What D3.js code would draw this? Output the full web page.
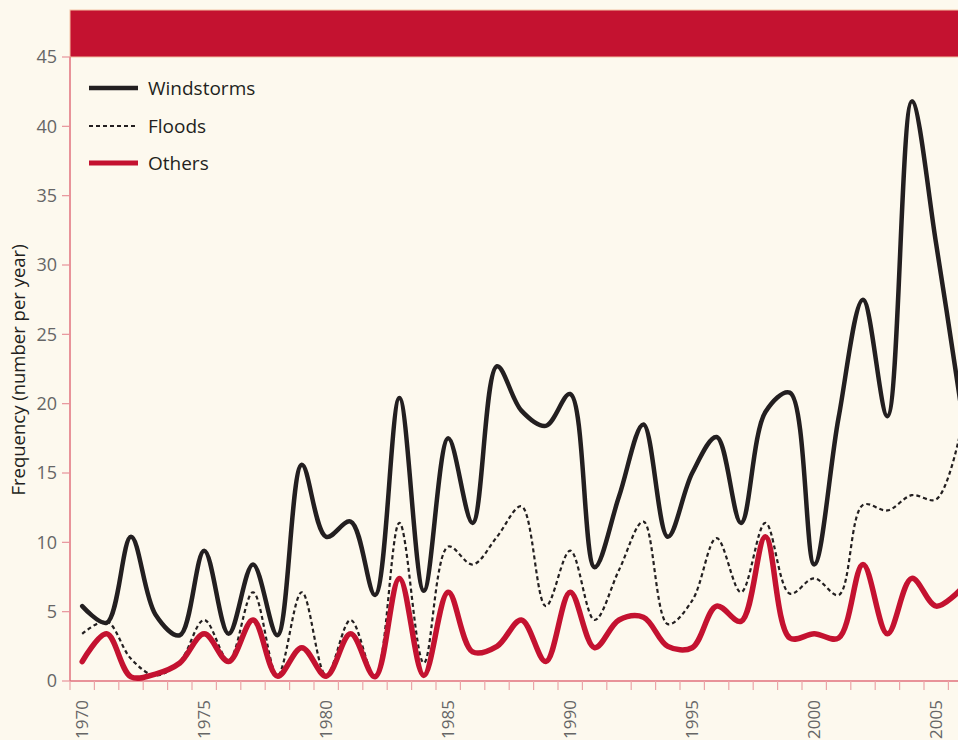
<!DOCTYPE html>
<html><head><meta charset="utf-8">
<script src="https://cdn.jsdelivr.net/npm/d3@7/dist/d3.min.js"></script>
<style>
html,body{margin:0;padding:0;background:#fdf9ee;}
svg{display:block;}
text{font-family:"Open Sans","Noto Sans",sans-serif;}
</style></head>
<body><svg id="c" width="958" height="740"></svg>
<script>
const years = d3.range(1970, 2007);
const windstorms = [5.4,4.2,10.4,4.8,3.3,9.4,3.4,8.4,3.3,15.6,10.4,11.5,6.2,20.4,6.5,17.5,11.4,22.7,19.5,18.4,20.7,8.2,13.3,18.5,10.4,15.0,17.6,11.4,19.4,20.8,8.4,19.0,27.5,19.1,41.8,31.5,20.0];
const floods = [3.4,4.3,1.6,0.4,1.4,4.4,1.5,6.4,0.4,6.4,0.4,4.4,0.3,11.4,1.3,9.7,8.4,10.4,12.6,5.4,9.4,4.4,8.0,11.5,4.1,5.8,10.3,6.4,11.4,6.3,7.4,6.2,12.7,12.3,13.4,13.1,18.0];
const others = [1.4,3.4,0.3,0.5,1.3,3.4,1.4,4.4,0.35,2.4,0.35,3.4,0.3,7.4,0.4,6.4,2.1,2.5,4.4,1.4,6.4,2.4,4.4,4.6,2.5,2.4,5.4,4.3,10.4,3.1,3.4,3.1,8.4,3.4,7.4,5.4,6.6];
const yTicks = [0,5,10,15,20,25,30,35,40,45];
const xLabels = [1970,1975,1980,1985,1990,1995,2000,2005];
const seriesNames = ["Windstorms","Floods","Others"];
const yTitle = "Frequency (number per year)";

const svg = d3.select("#c");
const bg = "#fdf9ee", red = "#c41230", black = "#231f20", axisCol = "#e0707c";
svg.append("rect").attr("width",958).attr("height",740).attr("fill",bg);

const x = d3.scaleLinear().domain([1969.5, 2006.5]).range([70, 70 + 37*24.4]);
const y = d3.scaleLinear().domain([0,45]).range([681,57]);

// header bar
svg.append("rect").attr("x",70).attr("y",10).attr("width",900).attr("height",47)
  .attr("fill",red).attr("stroke","#f3c3a3").attr("stroke-width",1);

// y axis
const yAxis = svg.append("g");
yAxis.append("line").attr("x1",70).attr("x2",70).attr("y1",y(45)).attr("y2",y(0))
  .attr("stroke",axisCol).attr("stroke-width",1.5);
yAxis.selectAll("line.t").data(yTicks).enter().append("line").attr("class","t")
  .attr("x1",62).attr("x2",70).attr("y1",d=>y(d)).attr("y2",d=>y(d))
  .attr("stroke","#e8929a").attr("stroke-width",1.2);
yAxis.selectAll("text").data(yTicks).enter().append("text")
  .attr("x",57).attr("y",d=>y(d)).attr("dy","0.36em").attr("text-anchor","end")
  .attr("font-size",18).attr("fill","#666").text(d=>d);

// x axis
const xAxis = svg.append("g");
xAxis.append("line").attr("x1",70).attr("x2",958).attr("y1",y(0)).attr("y2",y(0))
  .attr("stroke",axisCol).attr("stroke-width",1.5);
const bounds = d3.range(1969.5, 2007, 1);
xAxis.selectAll("line.t").data(bounds).enter().append("line").attr("class","t")
  .attr("x1",d=>x(d)).attr("x2",d=>x(d)).attr("y1",y(0)).attr("y2",y(0)+9)
  .attr("stroke","#eba5a8").attr("stroke-width",1.2);
xAxis.selectAll("text").data(xLabels).enter().append("text")
  .attr("transform",d=>`translate(${x(d)},700) rotate(-90)`)
  .attr("dy","0.36em").attr("text-anchor","end")
  .attr("font-size",17).attr("fill","#666").text(d=>d);

// y title
svg.append("text").attr("transform","translate(18,370) rotate(-90)")
  .attr("text-anchor","middle").attr("dy","0.36em").attr("font-size",18.5)
  .attr("fill","#231f20").text(yTitle);

// lines
const line = d3.line().x((d,i)=>x(years[i])).y(d=>y(d)).curve(d3.curveCatmullRom.alpha(0.5));
svg.append("path").datum(floods).attr("d",line).attr("fill","none")
  .attr("stroke",black).attr("stroke-width",2.2).attr("stroke-dasharray","4,3");
svg.append("path").datum(others).attr("d",line).attr("fill","none")
  .attr("stroke",red).attr("stroke-width",5.5).attr("stroke-linejoin","round").attr("stroke-linecap","round");
svg.append("path").datum(windstorms).attr("d",line).attr("fill","none")
  .attr("stroke",black).attr("stroke-width",4.5).attr("stroke-linejoin","round").attr("stroke-linecap","round");

// legend
const leg = [
  {name:seriesNames[0], stroke:black, w:4.5, dash:null, y:88},
  {name:seriesNames[1], stroke:black, w:2, dash:"4,3", y:126},
  {name:seriesNames[2], stroke:red, w:5, dash:null, y:163}
];
const lg = svg.append("g");
leg.forEach(l=>{
  lg.append("line").attr("x1",89).attr("x2",138).attr("y1",l.y).attr("y2",l.y)
    .attr("stroke",l.stroke).attr("stroke-width",l.w).attr("stroke-dasharray",l.dash);
  lg.append("text").attr("x",148).attr("y",l.y).attr("dy","0.36em")
    .attr("font-size",19).attr("fill","#231f20").text(l.name);
});
</script></body></html>
